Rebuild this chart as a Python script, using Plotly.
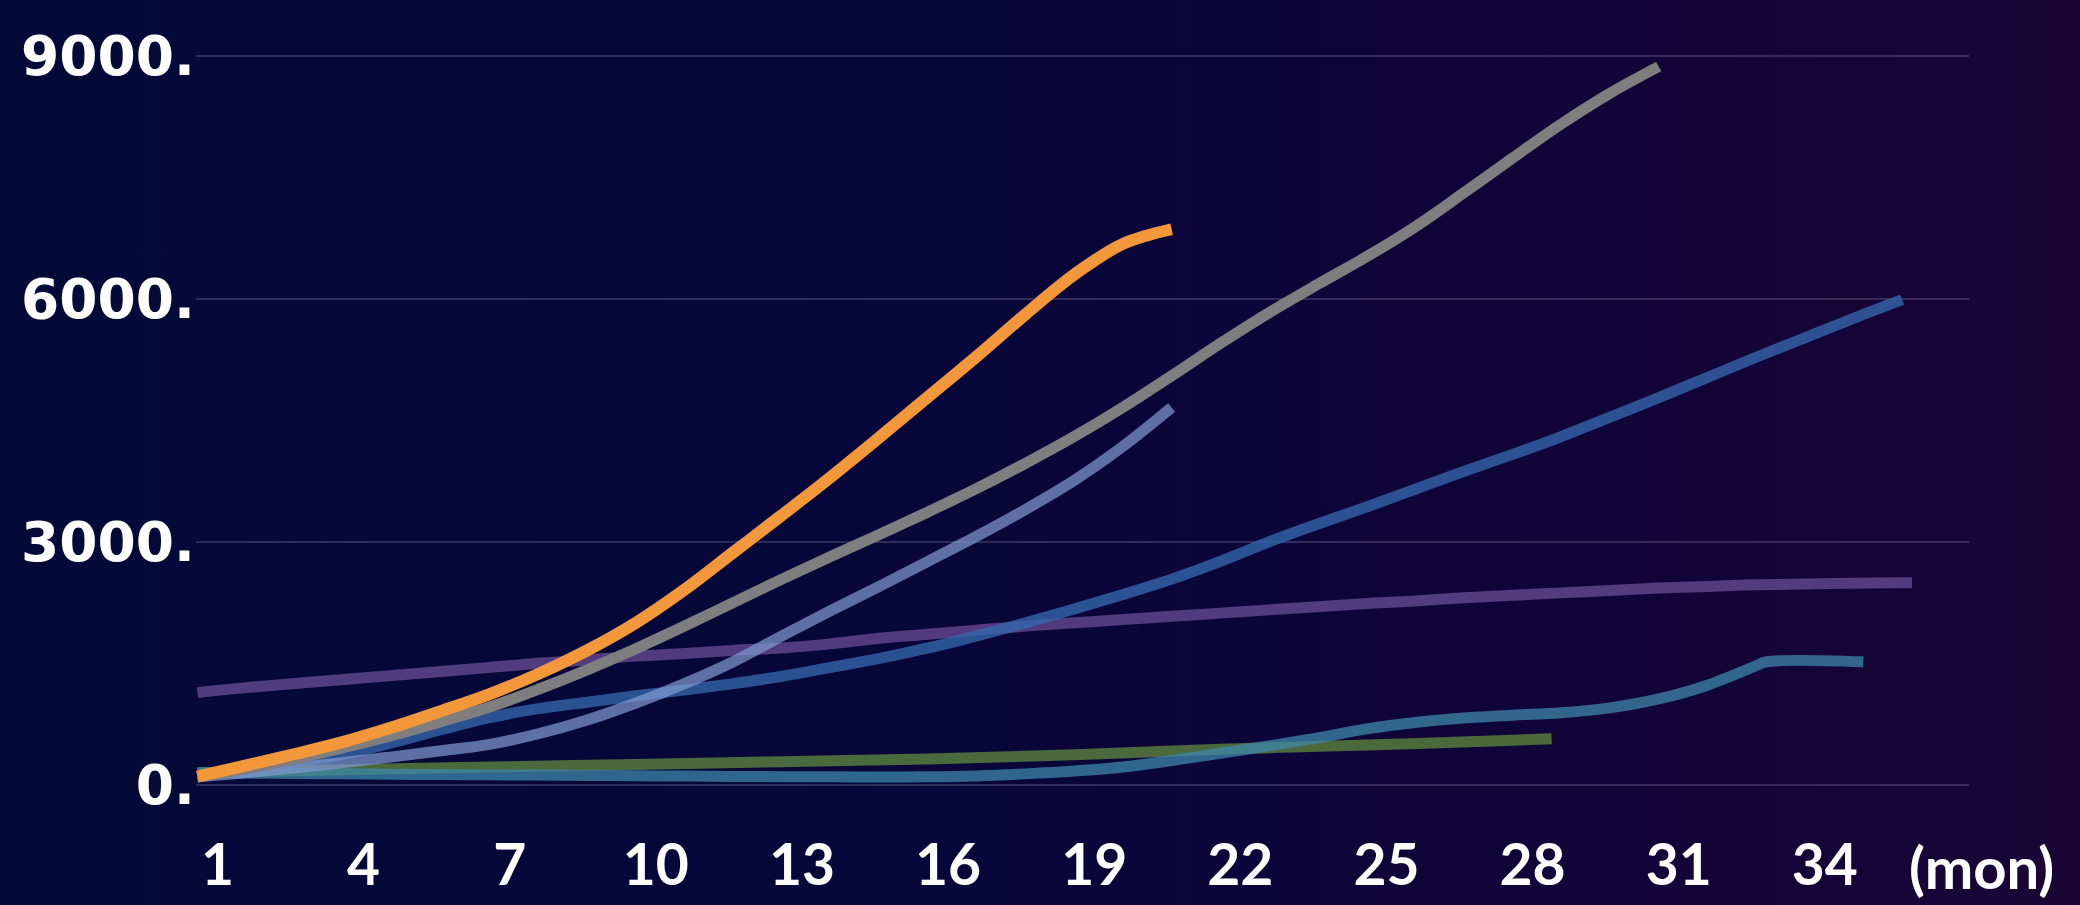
import base64
import plotly.graph_objects as go

# ---- data: cumulative value by month ----
orange_months = list(range(1, 22))
orange_values = [100, 240, 380, 530, 710, 910, 1120, 1370, 1660, 2000, 2410,
                 2870, 3330, 3800, 4290, 4790, 5290, 5810, 6300, 6680, 6860]

gray_months = list(range(1, 32))
gray_values = [100, 200, 320, 460, 610, 780, 960, 1180, 1420, 1680, 1960,
               2250, 2540, 2820, 3090, 3370, 3660, 3970, 4300, 4660, 5050,
               5450, 5830, 6180, 6520, 6890, 7310, 7740, 8160, 8540, 8870]

lightblue_months = list(range(1, 22))
lightblue_values = [100, 150, 210, 275, 345, 420, 500, 630, 800, 1010, 1250,
                    1520, 1840, 2150, 2450, 2760, 3070, 3400, 3760, 4180, 4660]

blue_months = list(range(1, 37))
blue_values = [100, 190, 280, 380, 520, 680, 830, 940, 1020, 1100, 1170, 1250,
               1340, 1450, 1560, 1690, 1840, 2000, 2170, 2350, 2540, 2760,
               3000, 3220, 3430, 3650, 3870, 4080, 4300, 4540, 4780, 5030,
               5280, 5520, 5760, 5990]

purple_months = list(range(1, 37)) + [36.2]
purple_values = [1140, 1200, 1250, 1300, 1350, 1400, 1450, 1500, 1540, 1590,
                 1620, 1660, 1690, 1740, 1810, 1860, 1910, 1960, 2000, 2040,
                 2080, 2120, 2160, 2200, 2240, 2270, 2310, 2340, 2370, 2400,
                 2430, 2450, 2470, 2480, 2490, 2495, 2495]

green_months = [1, 4, 7, 10, 13, 16, 19, 22, 25, 28, 28.8]
green_values = [150, 185, 220, 252, 285, 320, 370, 440, 490, 550, 568]

teal_months = list(range(1, 34)) + [33.2, 35.2]
teal_values = [150, 145, 140, 135, 130, 127, 124, 120, 116, 112, 108, 104, 100,
               98, 96, 98, 110, 135, 170, 220, 300, 390, 480, 580, 690, 770,
               825, 860, 890, 950, 1060, 1230, 1470, 1518, 1518]

x_ticks = [1, 4, 7, 10, 13, 16, 19, 22, 25, 28, 31, 34]
x_tick_text = [str(v) for v in x_ticks]
y_ticks = [0, 3000, 6000, 9000]
y_tick_text = ["0.", "3000.", "6000.", "9000."]
x_unit = "(mon)"

series = [
    # name, months, values, colour, width
    ("purple", purple_months, purple_values, "rgba(105,77,150,0.75)", 11),
    ("green", green_months, green_values, "rgba(97,139,62,0.75)", 11),
    ("teal", teal_months, teal_values, "rgba(62,135,170,0.75)", 11),
    ("blue", blue_months, blue_values, "rgba(52,104,172,0.78)", 11),
    ("lightblue", lightblue_months, lightblue_values, "rgba(128,152,206,0.72)", 11),
    ("gray", gray_months, gray_values, "#7e7e7e", 11),
    ("orange", orange_months, orange_values, "#f2983a", 12),
]

W, H = 2080, 905
ML, MR, MT, MB = 196, 111, 46, 104
PW, PH = W - ML - MR, H - MT - MB

fig = go.Figure()
for name, xs, ys, col, lw in series:
    fig.add_trace(go.Scatter(
        x=xs, y=ys, mode="lines", name=name,
        line=dict(color=col, width=lw, shape="spline", smoothing=1.0),
        hoverinfo="skip", showlegend=False,
    ))

# horizontal gradient backdrop, navy on the left to deep violet on the right
svg = (
    f'<svg xmlns="http://www.w3.org/2000/svg" width="{W}" height="{H}">'
    '<defs><linearGradient id="g" x1="0" y1="0" x2="1" y2="0">'
    '<stop offset="0" stop-color="#030a38"/>'
    '<stop offset="0.45" stop-color="#08063a"/>'
    '<stop offset="0.8" stop-color="#120438"/>'
    '<stop offset="1" stop-color="#1a0536"/>'
    '</linearGradient></defs>'
    f'<rect width="{W}" height="{H}" fill="url(#g)"/></svg>'
)
bg_src = "data:image/svg+xml;base64," + base64.b64encode(svg.encode()).decode()

fig.update_layout(
    width=W, height=H,
    margin=dict(l=ML, r=MR, t=MT, b=MB, pad=0, autoexpand=False),
    paper_bgcolor="#07073a",
    plot_bgcolor="rgba(0,0,0,0)",
    images=[dict(
        source=bg_src, xref="paper", yref="paper",
        x=-ML / PW, y=1 + MT / PH, sizex=W / PW, sizey=H / PH,
        xanchor="left", yanchor="top", sizing="stretch", layer="below",
    )],
    xaxis=dict(
        range=[0.97, 37.37], tickmode="array", tickvals=x_ticks,
        ticktext=x_tick_text, showgrid=False, zeroline=False,
        showline=False, ticks="", automargin=False,
        tickfont=dict(family="Lato", size=57, color="white", weight="bold"),
        ticklabelshift=20, ticklabelstandoff=26,
    ),
    yaxis=dict(
        range=[-200, 9123], tickmode="array", tickvals=y_ticks,
        ticktext=y_tick_text, showgrid=True,
        gridcolor="rgba(150,145,175,0.28)", gridwidth=2,
        zeroline=False, showline=False, ticks="", automargin=False,
        tickfont=dict(family="DejaVu Sans", size=55, color="white",
                      weight="bold"),
        ticklabelstandoff=0,
    ),
    annotations=[dict(
        text=x_unit, xref="paper", yref="paper",
        x=(1981 - ML) / PW, y=(H - MB - 866) / PH,
        xanchor="center", yanchor="middle", showarrow=False,
        font=dict(family="Lato", size=58, color="white", weight="bold"),
    )],
)

fig.write_html("out.html")
